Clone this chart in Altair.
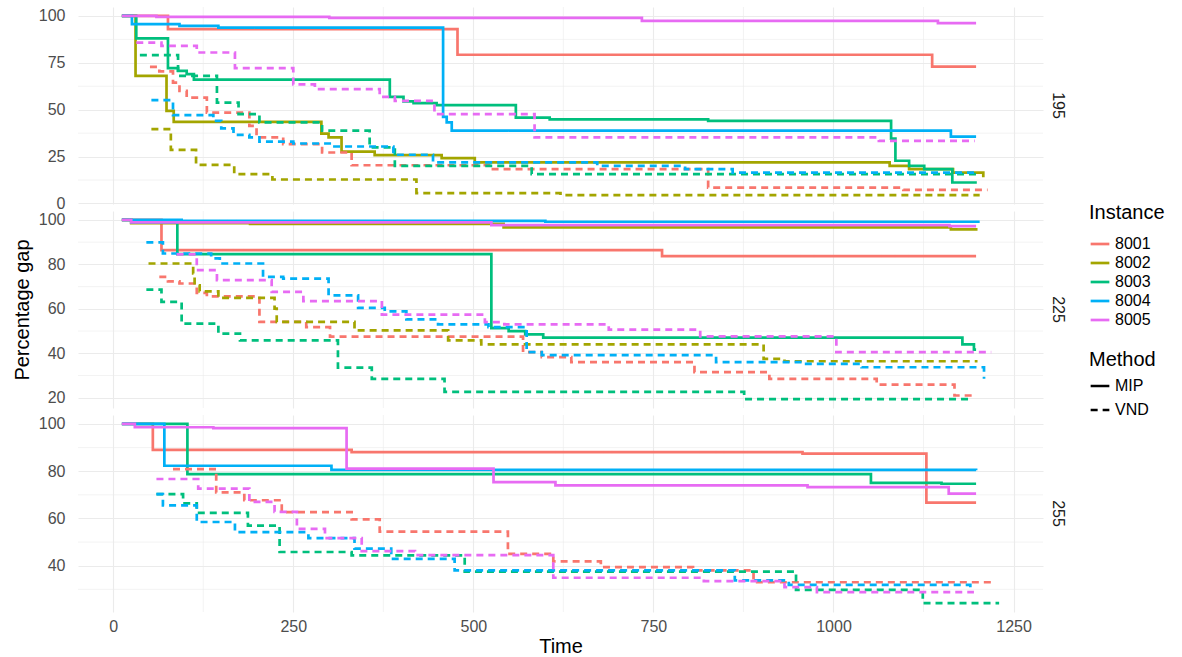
import altair as alt
import pandas as pd

# ---- categories -------------------------------------------------------------
INSTANCES = ["8001", "8002", "8003", "8004", "8005"]
COLORS = ["#F8766D", "#A3A500", "#00BF7D", "#00B0F6", "#E76BF3"]
METHODS = ["MIP", "VND"]
SIZES = ["195", "225", "255"]

# ---- best gap over time: (time, percentage gap) -----------------------------
# size 195
S195_8001_MIP = [(12, 100), (76, 93), (478, 79.3), (1137, 73), (1198, 73)]
S195_8002_MIP = [(12, 100), (31, 68), (74, 49.4), (84, 43.5), (289, 37.3), (299, 35.2), (317, 27.7),
                 (363, 25.8), (456, 24.2), (502, 21.9), (1078, 20.1), (1105, 18.3), (1166, 16.5), (1208, 14)]
S195_8003_MIP = [(12, 100), (32, 88), (76, 72.2), (90, 70.7), (102, 69), (112, 66), (384, 56.9),
                 (403, 54.4), (417, 53.5), (449, 52.5), (559, 45.8), (606, 44.8), (826, 44.1),
                 (1080, 34.6), (1086, 22.8), (1105, 20.1), (1126, 18.3), (1165, 11.2), (1199, 11.2)]
S195_8004_MIP = [(12, 100), (26, 95.6), (92, 94.7), (146, 93.8), (458, 46.2), (463, 43.2), (470, 38.8),
                 (1163, 35.7), (1198, 35.7)]
S195_8005_MIP = [(12, 100), (60, 99.5), (300, 99), (734, 97.4), (1145, 96.2), (1198, 96.2)]

S195_8001_VND = [(51, 72.9), (64, 70.4), (83, 64.5), (92, 60), (102, 56.5), (130, 48.5), (189, 41.4),
                 (199, 35.2), (236, 31.7), (290, 27.2), (331, 20.4), (525, 18.3), (826, 8.5),
                 (1097, 7.3), (1214, 7.3)]
S195_8002_VND = [(53, 39.7), (80, 28.6), (115, 20.6), (168, 15.7), (221, 12.8), (421, 5.5), (621, 4.5),
                 (1203, 4.5)]
S195_8003_VND = [(37, 79.1), (90, 68), (144, 53.8), (174, 47.7), (203, 43.2), (290, 38.8), (356, 29.9),
                 (391, 20.1), (581, 15.7), (1203, 15.7)]
S195_8004_VND = [(53, 55.1), (83, 47.1), (139, 44.1), (150, 40), (167, 36.6), (189, 35.2), (203, 33),
                 (250, 32), (305, 30.4), (389, 26), (444, 21.9), (672, 20.1), (794, 18.3), (860, 16.5),
                 (1198, 16.5)]
S195_8005_VND = [(32, 85.8), (67, 84), (116, 80.5), (169, 72.2), (250, 63.5), (280, 61), (370, 56.9),
                 (391, 54.7), (446, 47.7), (585, 35.2), (1063, 33.4), (1196, 33.4)]

# size 225
S225_8001_MIP = [(12, 100), (67, 86.4), (762, 83.7), (1198, 83.7)]
S225_8002_MIP = [(12, 100), (25, 98.6), (190, 98.2), (542, 96.7), (1163, 95.8), (1200, 95.8)]
S225_8003_MIP = [(12, 100), (25, 98.8), (89, 84.6), (525, 51.3), (549, 50), (572, 48.5), (597, 47),
                 (1179, 44), (1195, 41.6), (1198, 41.6)]
S225_8004_MIP = [(12, 100), (95, 99.6), (600, 99.2), (1203, 99.2)]
S225_8005_MIP = [(12, 100), (25, 98.9), (525, 97.7), (1161, 97.2), (1198, 97.2)]

S225_8001_VND = [(64, 74.4), (76, 72.4), (92, 71.4), (116, 67.2), (130, 65.6), (203, 54.1), (268, 51.8),
                 (301, 47.5), (569, 40.5), (595, 38.3), (636, 36), (807, 31.5), (911, 28.5),
                 (1060, 25.9), (1168, 21), (1198, 21)]
S225_8002_VND = [(49, 80.4), (111, 75.9), (113, 70.6), (120, 67.9), (146, 64.9), (224, 60.1), (227, 54.1),
                 (335, 50.3), (465, 45.8), (511, 44), (903, 37.5), (932, 36.4), (1200, 36.4)]
S225_8003_VND = [(46, 68.6), (67, 63.1), (95, 53.3), (146, 48.8), (176, 45.8), (312, 33.5), (359, 28.5),
                 (460, 22.6), (876, 19.4), (1193, 19.4)]
S225_8004_VND = [(46, 89.9), (69, 84.9), (136, 82.7), (148, 80.4), (208, 74.4), (236, 73.6), (299, 66.1),
                 (340, 60.4), (377, 58.9), (407, 55.3), (451, 53), (521, 51.8), (574, 40.5), (595, 39.2),
                 (837, 36), (956, 35.2), (1039, 33.7), (1209, 28.5)]
S225_8005_VND = [(88, 84.5), (116, 77.4), (144, 72.9), (220, 67.6), (264, 63.5), (373, 57.4), (516, 54),
                 (543, 53), (688, 50.6), (815, 47.6), (1004, 40.5), (1219, 40.5)]

# size 255
S255_8001_MIP = [(12, 100), (55, 89), (331, 88.1), (957, 87.4), (1129, 66.7), (1198, 66.7)]
S255_8003_MIP = [(12, 100), (103, 78.8), (1052, 75.1), (1150, 74.7), (1198, 74.7)]
S255_8004_MIP = [(12, 100), (71, 82.3), (303, 80.6), (1198, 80.4)]
S255_8005_MIP = [(12, 100), (30, 98.6), (139, 98.2), (324, 81.1), (528, 75.4), (614, 74), (964, 73.3),
                 (1160, 70.5), (1198, 70.5)]

S255_8001_VND = [(83, 80.9), (143, 71), (182, 67.7), (234, 62.7), (331, 59.6), (370, 54.4), (548, 45),
                 (611, 41.8), (677, 39.4), (805, 38), (889, 33), (1219, 33)]
S255_8003_VND = [(60, 70.3), (97, 66.4), (116, 62.4), (187, 57), (231, 45.8), (331, 44.4), (488, 37.5),
                 (948, 29.8), (1124, 24.2), (1230, 24.2)]
S255_8004_VND = [(60, 70.3), (69, 65.5), (116, 58.5), (169, 54.2), (271, 51.7), (335, 47.2), (386, 42.9),
                 (474, 38), (863, 33.8), (938, 31.9), (1187, 31.9), (1190, 30.2)]
S255_8005_VND = [(60, 76.7), (118, 72.6), (189, 67), (224, 62.8), (255, 55.6), (294, 51.7), (345, 46.2),
                 (419, 44.5), (611, 34.9), (820, 33.5), (932, 30.9), (977, 28.8), (1195, 28.8)]

SERIES = [
    ("195", "8001", "MIP", S195_8001_MIP), ("195", "8002", "MIP", S195_8002_MIP),
    ("195", "8003", "MIP", S195_8003_MIP), ("195", "8004", "MIP", S195_8004_MIP),
    ("195", "8005", "MIP", S195_8005_MIP),
    ("195", "8001", "VND", S195_8001_VND), ("195", "8002", "VND", S195_8002_VND),
    ("195", "8003", "VND", S195_8003_VND), ("195", "8004", "VND", S195_8004_VND),
    ("195", "8005", "VND", S195_8005_VND),
    ("225", "8001", "MIP", S225_8001_MIP), ("225", "8002", "MIP", S225_8002_MIP),
    ("225", "8003", "MIP", S225_8003_MIP), ("225", "8004", "MIP", S225_8004_MIP),
    ("225", "8005", "MIP", S225_8005_MIP),
    ("225", "8001", "VND", S225_8001_VND), ("225", "8002", "VND", S225_8002_VND),
    ("225", "8003", "VND", S225_8003_VND), ("225", "8004", "VND", S225_8004_VND),
    ("225", "8005", "VND", S225_8005_VND),
    ("255", "8001", "MIP", S255_8001_MIP), ("255", "8003", "MIP", S255_8003_MIP),
    ("255", "8004", "MIP", S255_8004_MIP), ("255", "8005", "MIP", S255_8005_MIP),
    ("255", "8001", "VND", S255_8001_VND), ("255", "8003", "VND", S255_8003_VND),
    ("255", "8004", "VND", S255_8004_VND), ("255", "8005", "VND", S255_8005_VND),
]

rows = []
for size, inst, meth, pts in SERIES:
    for t, g in pts:
        rows.append({"size": size, "Instance": inst, "Method": meth, "Time": t, "gap": g})
df = pd.DataFrame(rows)

# axis breaks
X_MAJOR = [0, 250, 500, 750, 1000, 1250]
X_MINOR = [125, 375, 625, 875, 1125]
Y_MAJOR = {"195": [0, 25, 50, 75, 100], "225": [20, 40, 60, 80, 100], "255": [40, 60, 80, 100]}
Y_MINOR = {"195": [12.5, 37.5, 62.5, 87.5], "225": [30, 50, 70, 90], "255": [30, 50, 70, 90]}


def expanded(lo, hi, frac=0.05):
    r = hi - lo
    return [lo - frac * r, hi + frac * r]


X_DOMAIN = expanded(df["Time"].min(), df["Time"].max())

W, H = 965, 197
GRID = "#EBEBEB"
FONT = "Liberation Sans"


def panel(size, bottom, middle):
    d = df[df["size"] == size]
    xs = alt.Scale(domain=X_DOMAIN, nice=False, zero=False)
    ys = alt.Scale(domain=expanded(d["gap"].min(), d["gap"].max()), nice=False, zero=False)

    x_axis = alt.Axis(values=X_MAJOR, format="d", title="Time" if bottom else None,
                      labels=bottom, grid=True, gridColor=GRID, gridWidth=1.1, ticks=False,
                      domain=False, labelPadding=6 if bottom else 0, titlePadding=2,
                      minExtent=0, maxExtent=200 if bottom else 0)
    y_axis = alt.Axis(values=Y_MAJOR[size], title="Percentage gap" if middle else None,
                      grid=True, gridColor=GRID, gridWidth=1.1, ticks=False, domain=False,
                      labelPadding=13, titlePadding=6, minExtent=40, maxExtent=40)

    minor_y = alt.Chart(pd.DataFrame({"v": Y_MINOR[size]})).mark_rule(
        color=GRID, strokeWidth=0.6).encode(y=alt.Y("v:Q", scale=ys, axis=y_axis))
    minor_x = alt.Chart(pd.DataFrame({"t": X_MINOR})).mark_rule(
        color=GRID, strokeWidth=0.6).encode(x=alt.X("t:Q", scale=xs, axis=x_axis))

    lines = alt.Chart(d).mark_line(interpolate="step-after", strokeWidth=2.7).encode(
        x=alt.X("Time:Q", scale=xs, axis=x_axis),
        y=alt.Y("gap:Q", scale=ys, axis=y_axis),
        color=alt.Color("Instance:N", scale=alt.Scale(domain=INSTANCES, range=COLORS),
                        legend=alt.Legend(title="Instance", orient="none", legendX=1011,
                                          legendY=196, symbolType="stroke",
                                          symbolStrokeWidth=2.7, symbolSize=350, rowPadding=0)),
        strokeDash=alt.StrokeDash("Method:N",
                                  scale=alt.Scale(domain=METHODS, range=[[1, 0], [7, 5]]),
                                  legend=alt.Legend(title="Method", orient="none", legendX=1011,
                                                    legendY=343, titlePadding=5,
                                                    symbolType="stroke", symbolStrokeWidth=2.7,
                                                    symbolStrokeColor="black", symbolSize=350,
                                                    rowPadding=5)),
        detail=["Instance:N", "Method:N"],
    )

    strip = alt.Chart(pd.DataFrame({"size": [size]})).mark_text(
        angle=90, fontSize=16, color="#1A1A1A", font=FONT).encode(
        text="size:N", x=alt.value(W + 15), y=alt.value(H / 2))

    return alt.layer(minor_x, minor_y, lines, strip).properties(width=W, height=H)


chart = alt.vconcat(
    panel("195", False, False),
    panel("225", False, True),
    panel("255", True, False),
    spacing=7,
    bounds="flush",
).resolve_scale(y="independent").configure(
    font=FONT,
    padding={"left": 12, "top": 6, "right": 5, "bottom": 5},
).configure_view(stroke=None).configure_axis(
    labelFontSize=16, labelColor="#4D4D4D", titleFontSize=20, titleColor="black",
    titleFontWeight="normal", labelFont=FONT, titleFont=FONT,
).configure_legend(
    titleFontSize=20, labelFontSize=16, titleFontWeight="normal", labelColor="black",
    titleColor="black", labelFont=FONT, titleFont=FONT, titlePadding=10,
)

chart.save("out.html", embed_options={"renderer": "svg", "actions": False})
